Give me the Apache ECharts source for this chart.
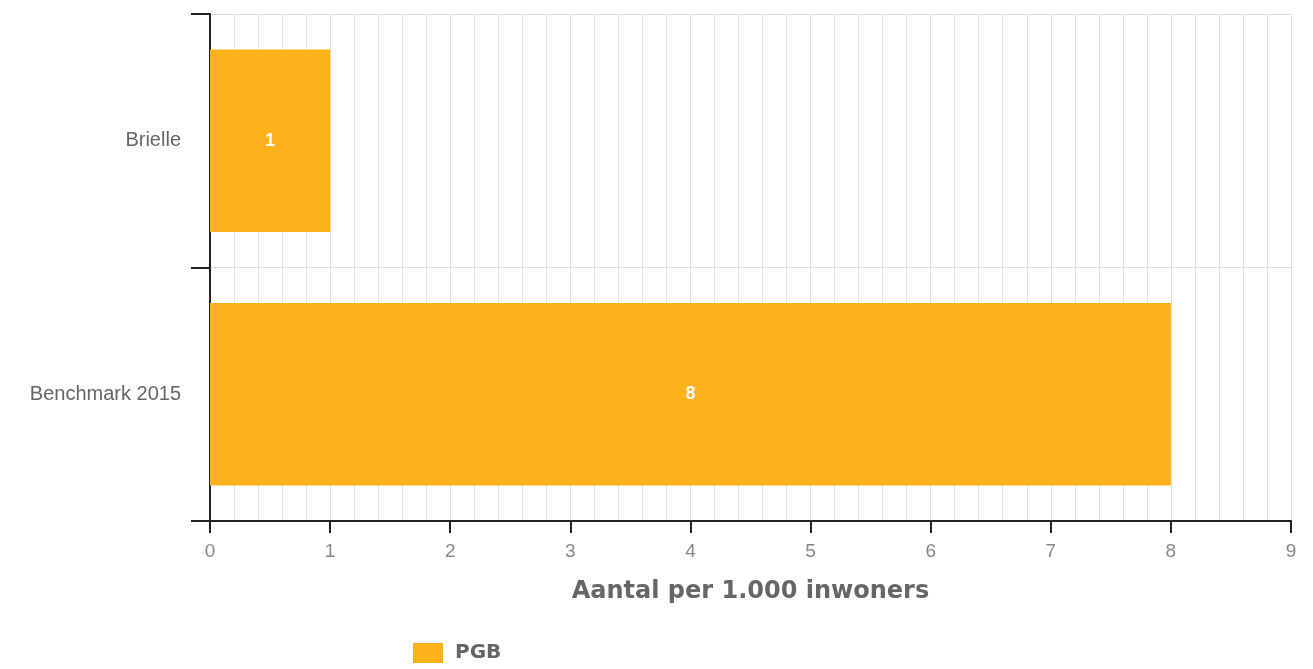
<!DOCTYPE html>
<html>
<head>
<meta charset="utf-8">
<script src="https://cdn.jsdelivr.net/npm/echarts@6/dist/echarts.min.js"></script>
<style>
  html, body { margin: 0; padding: 0; background: #fff; }
  #chart { width: 1313px; height: 669px; }
</style>
</head>
<body>
<div id="chart"></div>
<script>
// data
const categories = ['Brielle', 'Benchmark 2015']
const pgbValues = [1, 8]
const seriesName = 'PGB'
const axisTitle = 'Aantal per 1.000 inwoners'

const chart = echarts.init(document.getElementById('chart'))

const option = {
  animation: false,
  grid: {
    left: 210,
    right: 22,
    top: 14,
    bottom: 148
  },
  legend: {
    data: [seriesName],
    left: 408,
    top: 638,
    icon: 'rect',
    itemWidth: 30,
    itemHeight: 20,
    itemGap: 10,
    textStyle: {
      color: '#666',
      fontSize: 20,
      fontWeight: 'bold',
      fontFamily: 'DejaVu Sans',
      padding: [3, 0, 0, 7]
    }
  },
  xAxis: {
    type: 'value',
    min: 0,
    max: 9,
    interval: 1,
    name: axisTitle,
    nameLocation: 'middle',
    nameGap: 59,
    nameTextStyle: {
      color: '#666',
      fontSize: 24,
      fontWeight: 'bold',
      fontFamily: 'DejaVu Sans'
    },
    axisLine: { show: true, lineStyle: { color: '#222', width: 2 } },
    axisTick: { show: true, length: 12, lineStyle: { color: '#222', width: 2 } },
    axisLabel: {
      color: '#888',
      fontSize: 19,
      margin: 21,
      fontFamily: 'Liberation Sans'
    },
    splitLine: { show: true, lineStyle: { color: '#ddd', width: 1 } },
    minorTick: { show: false, splitNumber: 5 },
    minorSplitLine: { show: true, lineStyle: { color: '#e3e3e3', width: 1 } }
  },
  yAxis: {
    type: 'category',
    data: categories,
    inverse: true,
    axisLine: { show: true, lineStyle: { color: '#222', width: 2 } },
    axisTick: { show: true, length: 19, lineStyle: { color: '#222', width: 2 } },
    axisLabel: {
      color: '#666',
      fontSize: 20,
      margin: 29,
      fontFamily: 'Liberation Sans',
      padding: [10, 0, 0, 0]
    },
    splitLine: { show: true, lineStyle: { color: '#ddd', width: 1 } }
  },
  series: [
    {
      name: seriesName,
      type: 'bar',
      data: pgbValues,
      barWidth: '72%',
      itemStyle: { color: '#fdb11a' },
      label: {
        show: true,
        position: 'inside',
        color: '#fff',
        fontSize: 18,
        fontWeight: 'bold',
        fontFamily: 'Liberation Sans',
        padding: [8, 0, 0, 0]
      }
    }
  ]
}

chart.setOption(option)
</script>
</body>
</html>
